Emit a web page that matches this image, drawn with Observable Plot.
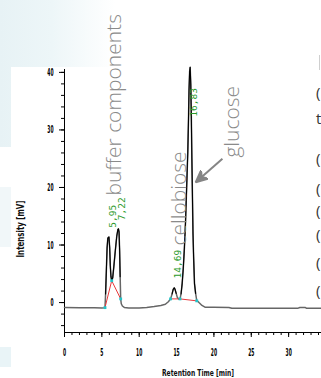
<!DOCTYPE html>
<html><head><meta charset="utf-8">
<script src="https://cdn.jsdelivr.net/npm/d3@7"></script>
<script src="https://cdn.jsdelivr.net/npm/@observablehq/plot@0.6"></script>
<style>
html,body{margin:0;padding:0;background:#fff;}
#wrap{position:relative;width:321px;height:378px;overflow:hidden;background:#fff;}
.bg{position:absolute;}
#chart{position:absolute;left:0;top:0;}
.edge{position:absolute;left:316px;font-family:"Open Sans",sans-serif;font-size:15px;color:#333;line-height:16px;}
</style></head><body>
<div id="wrap">
  <div class="bg" style="left:0;top:0;width:115px;height:147px;background:linear-gradient(to right,#e7f2f5 0%,#edf6f8 45%,rgba(255,255,255,0) 100%);"></div>
  <div class="bg" style="left:0;top:187px;width:11px;height:60px;background:#f1f7f9;"></div>
  <div class="bg" style="left:0;top:347px;width:11px;height:20px;background:#e9f4f7;"></div>
  <div class="bg" style="left:11px;top:67px;right:0;bottom:0;background:#fff;"></div>
  <div class="bg" style="left:319px;top:55px;width:0;height:15px;border-left:1.5px solid #cfcfcf;"></div>
  <div id="edgeText"></div>
  <div id="chart"></div>
</div>
<script>
// chromatogram trace
const time   = [0, 2, 4, 5.0, 5.42, 5.5, 5.6, 5.7, 5.8, 5.95, 6.05, 6.13, 6.22, 6.32, 6.45, 6.6, 6.8, 7.0, 7.15, 7.22, 7.3, 7.38, 7.45, 7.52, 7.6, 7.75, 8.0, 8.6, 10, 11, 12, 12.9, 13.5, 13.9, 14.2, 14.4, 14.55, 14.69, 14.8, 14.95, 15.1, 15.3, 15.46, 15.6, 15.75, 15.9, 16.05, 16.2, 16.35, 16.5, 16.6, 16.67, 16.75, 16.82, 16.9, 16.98, 17.05, 17.12, 17.2, 17.28, 17.4, 17.55, 17.7, 18.0, 18.4, 18.8, 20, 22, 22.4, 25, 28, 31.2, 31.5, 32.2, 32.4, 34.4];
const signal = [-0.85, -0.88, -0.92, -0.93, -0.88, 1.5, 5.5, 9.5, 11.2, 11.4, 9.5, 6.4, 4.5, 3.8, 4.3, 6.2, 9.0, 11.6, 12.7, 12.8, 12.3, 9.0, 4.5, 0.64, -0.2, -0.6, -0.85, -0.95, -0.95, -0.85, -0.7, -0.5, -0.3, 0.15, 0.64, 1.5, 2.3, 2.55, 2.3, 1.6, 0.9, 0.6, 0.64, 1.5, 3.3, 6, 9.5, 14, 20, 26, 32, 37, 40.2, 40.9, 38, 32, 25, 19, 12, 8, 3.3, 1.6, 0.4, 0.0, -0.5, -0.8, -0.8, -0.85, -1.0, -1.0, -1.0, -1.0, -0.85, -0.85, -1.0, -1.0];

// integration baselines (red) and peak limits (cyan)
const baseX1 = [5.42, 6.32, 14.2, 15.46];
const baseY1 = [-0.88, 3.8, 0.64, 0.64];
const baseX2 = [6.32, 7.52, 15.46, 17.7];
const baseY2 = [3.8, 0.64, 0.64, 0.3];
const markX = [5.42, 6.32, 7.52, 14.2, 15.46, 17.7];
const markY = [-0.88, 3.8, 0.64, 0.64, 0.64, 0.3];

// retention time labels
const peakTimes  = [5.95, 7.22, 14.69, 16.83];
const peakLabels = ["5,95", "7,22", "14,69", "16,83"];
const labelLevel = [13.0, 14.3, 4.2, 32.3];

// annotations
const annText = ["buffer components", "cellobiose", "glucose"];
const annX = [7.6, 16.3, 23.4];
const annY = [18.6, 9.9, 25.2];
const arrowFrom = [21.14, 24.98];
const arrowTo = [17.56, 20.9];

// axis ticks and titles
const xMajor = [0, 5, 10, 15, 20, 25, 30];
const xMinor = d3.range(0, 35, 1);
const yMajor = [0, 10, 20, 30, 40];
const yMinor = d3.range(-4, 41, 2);
const xDomain = [0, 34.4];
const yDomain = [-5.2, 40.5];
const xTitle = "Retention Time [min]";
const yTitle = "Intensity [mV]";

// cropped slide text on the right edge
const edgeChars = ["(", "t", "(", "(", "(", "(", "(", "("];
const edgeTops = [84, 110, 150, 180, 202, 226, 254, 282];

const trace = time.map((t, i) => ({t, v: signal[i]}));
const baselines = baseX1.map((x, i) => ({x1: x, y1: baseY1[i], x2: baseX2[i], y2: baseY2[i]}));
const marks = markX.map((x, i) => ({x, y: markY[i]}));
const peaks = peakTimes.map((t, i) => ({t, label: peakLabels[i], y: labelLevel[i]}));
const anns = annText.map((s, i) => ({s, x: annX[i], y: annY[i]}));

const svgns = "http://www.w3.org/2000/svg";
function stealth(color) {
  const m = document.createElementNS(svgns, "marker");
  m.setAttribute("viewBox", "-12 -6 13 12");
  m.setAttribute("markerWidth", 13);
  m.setAttribute("markerHeight", 12);
  m.setAttribute("markerUnits", "userSpaceOnUse");
  m.setAttribute("refX", 0);
  m.setAttribute("refY", 0);
  m.setAttribute("orient", "auto");
  const p = document.createElementNS(svgns, "path");
  p.setAttribute("d", "M0,0L-12,-5.5L-8,0L-12,5.5Z");
  p.setAttribute("fill", color);
  m.appendChild(p);
  return m;
}

const tickFont = {fontFamily: "DejaVu Sans", fontSize: 11, fontWeight: "bold"};

const chart = Plot.plot({
  width: 321,
  height: 378,
  marginLeft: 64,
  marginRight: 0,
  marginTop: 69,
  marginBottom: 46,
  style: {background: "transparent", overflow: "visible"},
  x: {domain: xDomain},
  y: {domain: yDomain},
  marks: [
    Plot.ruleX([xDomain[0]], {stroke: "#000", strokeWidth: 1}),
    Plot.ruleY([yDomain[0]], {stroke: "#000", strokeWidth: 1}),
    Plot.axisY({ticks: yMajor, tickSize: 5, tickPadding: 6, label: null, ...tickFont}),
    Plot.axisY({ticks: yMinor, tickSize: 3, text: null, label: null}),
    Plot.axisX({ticks: xMajor, tickSize: 5, tickPadding: 11, label: null, ...tickFont}),
    Plot.axisX({ticks: xMinor, tickSize: 3, text: null, label: null}),
    Plot.text([yTitle], {frameAnchor: "left", rotate: -90, dx: -44, dy: 28, textAnchor: "middle", lineAnchor: "middle", fontFamily: "DejaVu Sans", fontSize: 10, fontWeight: "bold", fill: "#111"}),
    Plot.text([xTitle], {frameAnchor: "bottom", dx: 5, dy: 43, textAnchor: "middle", lineAnchor: "bottom", fontFamily: "DejaVu Sans", fontSize: 9.5, fontWeight: "bold", fill: "#111"}),
    Plot.line(trace, {x: "t", y: "v", stroke: "#666", strokeWidth: 1.5}),
    Plot.line(trace, {x: "t", y: d => d.v > 1.2 ? d.v : NaN, stroke: "#000", strokeWidth: 1.1}),
    Plot.link(baselines, {x1: "x1", y1: "y1", x2: "x2", y2: "y2", stroke: "#e8383a", strokeWidth: 1}),
    Plot.dot(marks, {x: "x", y: "y", symbol: "square", r: 1.6, fill: "#22c4c8", stroke: null}),
    Plot.text(peaks, {x: "t", y: "y", text: "label", rotate: -90, textAnchor: "start", lineAnchor: "middle", dx: 4, fill: "#2b9a2b", fontFamily: "DejaVu Sans Mono", fontSize: 9.5}),
    Plot.text(anns, {x: "x", y: "y", text: "s", rotate: -90, textAnchor: "start", lineAnchor: "bottom", fill: "#8a8a8a", fontFamily: "Open Sans", fontSize: 21, fontWeight: 300}),
    Plot.link([{x1: arrowFrom[0], y1: arrowFrom[1], x2: arrowTo[0], y2: arrowTo[1]}], {x1: "x1", y1: "y1", x2: "x2", y2: "y2", stroke: "#858585", strokeWidth: 2, markerEnd: stealth})
  ]
});

// condense the narrow instrument-style fonts
const tickSet = new Set([...xMajor, ...yMajor].map(String));
chart.querySelectorAll("text").forEach(t => {
  const s = t.textContent;
  let len = null;
  if (tickSet.has(s)) len = 3.1 * s.length;
  else if (s === yTitle) len = 57;
  else if (s === xTitle) len = 72;
  if (len != null) {
    t.setAttribute("textLength", len);
    t.setAttribute("lengthAdjust", "spacingAndGlyphs");
  }
});

document.getElementById("chart").appendChild(chart);

const edge = document.getElementById("edgeText");
edgeChars.forEach((c, i) => {
  const d = document.createElement("div");
  d.className = "edge";
  d.style.top = edgeTops[i] + "px";
  d.textContent = c;
  edge.appendChild(d);
});
</script>
</body></html>
